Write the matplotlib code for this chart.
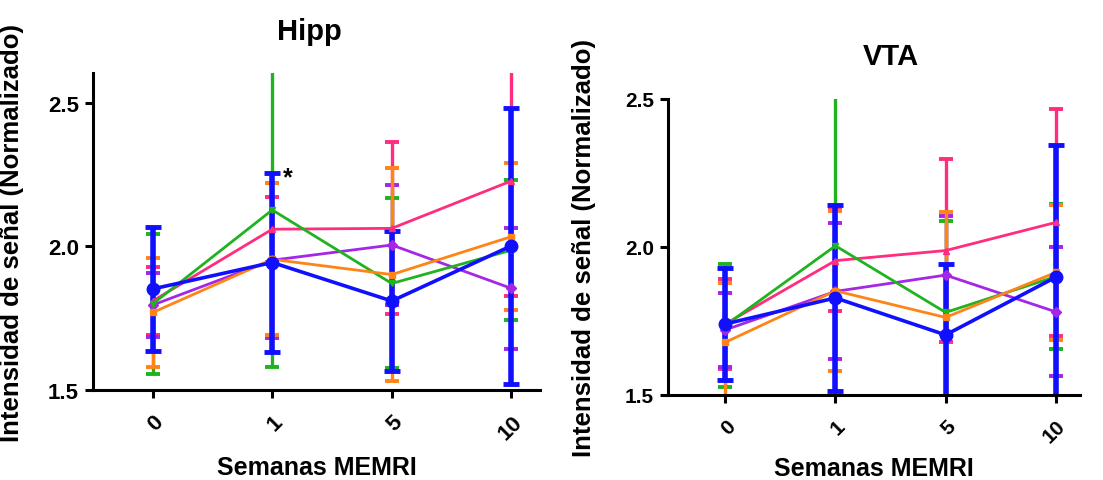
import matplotlib
matplotlib.use("Agg")
import matplotlib.pyplot as plt
import numpy as np

plt.rcParams['font.family'] = ['Liberation Sans', 'DejaVu Sans']
plt.rcParams['font.weight'] = 'bold'

weeks = ["0", "1", "5", "10"]
series_names = ["pink", "purple", "green", "orange", "blue"]

# Hipp panel: means and error (SD)
hipp_pink = [1.81, 2.06, 2.063, 2.228]
hipp_pink_err = [0.12, 0.113, 0.30, 0.40]
hipp_purple = [1.796, 1.952, 2.005, 1.854]
hipp_purple_err = [0.11, 0.27, 0.21, 0.21]
hipp_green = [1.80, 2.127, 1.871, 1.987]
hipp_green_err = [0.245, 0.546, 0.296, 0.244]
hipp_orange = [1.77, 1.955, 1.902, 2.034]
hipp_orange_err = [0.19, 0.265, 0.37, 0.255]
hipp_blue = [1.852, 1.944, 1.81, 2.002]
hipp_blue_err = [0.217, 0.31, 0.245, 0.48]

# VTA panel
vta_pink = [1.74, 1.954, 1.988, 2.083]
vta_pink_err = [0.152, 0.17, 0.31, 0.383]
vta_purple = [1.72, 1.85, 1.905, 1.781]
vta_purple_err = [0.125, 0.23, 0.2, 0.218]
vta_green = [1.735, 2.004, 1.779, 1.90]
vta_green_err = [0.208, 0.51, 0.31, 0.245]
vta_orange = [1.678, 1.852, 1.762, 1.914]
vta_orange_err = [0.2, 0.27, 0.355, 0.228]
vta_blue = [1.74, 1.828, 1.703, 1.898]
vta_blue_err = [0.19, 0.313, 0.24, 0.447]

colors = {"pink": "#ff2d7d", "purple": "#a426e6", "green": "#1fb31f",
          "orange": "#ff8417", "blue": "#1010ff"}
markers = {"pink": "^", "purple": "D", "green": "v", "orange": "s", "blue": "o"}

fig = plt.figure(figsize=(11.03, 4.81), dpi=100)
ax1 = fig.add_axes([93/1103, 1-391/481, 447/1103, 317/481])
ax2 = fig.add_axes([668/1103, 1-396/481, 412/1103, 296/481])

hipp = {"pink": (hipp_pink, hipp_pink_err), "purple": (hipp_purple, hipp_purple_err),
        "green": (hipp_green, hipp_green_err), "orange": (hipp_orange, hipp_orange_err),
        "blue": (hipp_blue, hipp_blue_err)}
vta = {"pink": (vta_pink, vta_pink_err), "purple": (vta_purple, vta_purple_err),
       "green": (vta_green, vta_green_err), "orange": (vta_orange, vta_orange_err),
       "blue": (vta_blue, vta_blue_err)}

x = np.arange(len(weeks))

def draw(ax, data, title, ylim, xlim, title_xy, ylab_x, xlab_y, tsize):
    for name in series_names:
        m, e = data[name]
        isblue = name == "blue"
        ax.errorbar(x, m, yerr=e, color=colors[name], marker=markers[name],
                    markersize=9 if isblue else 5,
                    lw=2.6 if isblue else 2.0,
                    elinewidth=4.0 if isblue else 2.4,
                    capsize=6 if isblue else 5, capthick=3.5 if isblue else 2.8,
                    clip_on=True, zorder=3)
    ax.set_ylim(*ylim)
    ax.set_xlim(*xlim)
    ax.set_yticks([1.5, 2.0, 2.5])
    ax.set_yticklabels(["1.5", "2.0", "2.5"])
    ax.set_xticks(x)
    ax.set_xticklabels(weeks, rotation=45, ha='right', va='top', rotation_mode='anchor')
    for s in ["top", "right"]:
        ax.spines[s].set_visible(False)
    for s in ["left", "bottom"]:
        ax.spines[s].set_linewidth(2.2)
        ax.spines[s].set_zorder(5)
    ax.tick_params(axis='both', width=2.2, length=6, labelsize=tsize, direction='out')
    ax.tick_params(axis='x', pad=9)
    ax.tick_params(axis='y', pad=4)
    ax.text(title_xy[0], title_xy[1], title, transform=ax.transAxes, ha='center',
            va='center', fontsize=21, fontweight='bold')
    ax.set_xlabel("Semanas MEMRI", fontsize=18, fontweight='bold')
    ax.xaxis.set_label_coords(0.5, xlab_y)
    ax.set_ylabel("Intensidad de señal (Normalizado)", fontsize=18.5, fontweight='bold')
    ax.yaxis.set_label_coords(ylab_x, 0.5)

draw(ax1, hipp, "Hipp", (1.5, 2.604), (-0.5, 3.24), (0.485, 1.132), -0.155, -0.205, 16)
draw(ax2, vta, "VTA", (1.5, 2.5), (-0.52, 3.22), (0.54, 1.145), -0.175, -0.205, 15)

ax1.text(1.13, 2.24, "*", fontsize=18, fontweight='bold', ha='center', va='center')

fig.savefig("out.png", dpi=100)
